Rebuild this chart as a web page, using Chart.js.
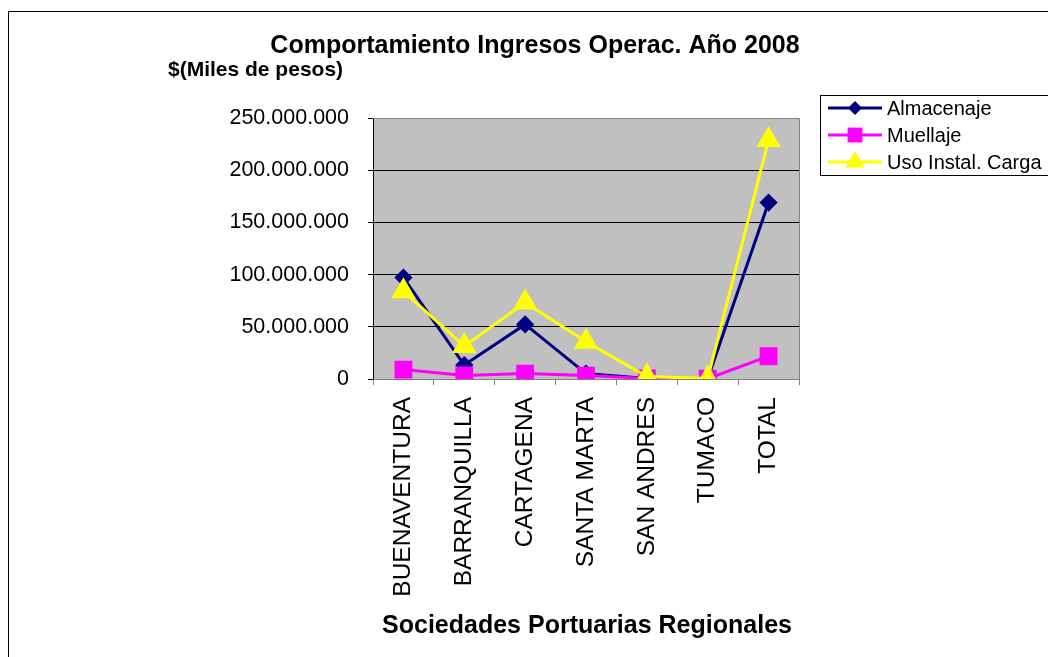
<!DOCTYPE html>
<html>
<head>
<meta charset="utf-8">
<script src="https://cdn.jsdelivr.net/npm/chart.js@4/dist/chart.umd.min.js"></script>
<style>
html,body{margin:0;padding:0;background:#fff;overflow:hidden;}
#wrap{position:relative;width:1048px;height:657px;}
canvas{display:block;}
</style>
</head>
<body>
<div id="wrap"><canvas id="c" width="1048" height="657"></canvas></div>
<script>
const categorias = ['BUENAVENTURA','BARRANQUILLA','CARTAGENA','SANTA MARTA','SAN ANDRES','TUMACO','TOTAL'];
const almacenaje = [97200000, 13400000, 52300000, 5200000, 600000, 200000, 169000000];
const muellaje   = [9000000, 3400000, 5200000, 3300000, 600000, 300000, 21800000];
const usoInstal  = [84000000, 31500000, 73300000, 35700000, 2300000, 400000, 229000000];
const yTicks = [0, 50000000, 100000000, 150000000, 200000000, 250000000];
const titulo = 'Comportamiento Ingresos Operac. Año 2008';
const subtitulo = '$(Miles de pesos)';
const tituloX = 'Sociedades Portuarias Regionales';

const FONT = '"Liberation Sans", Arial, sans-serif';
function fmt(v){ return String(v).replace(/\B(?=(\d{3})+(?!\d))/g, '.'); }

function markerPath(ctx, style, r, x, y){
  ctx.beginPath();
  if (style === 'rectRot') {
    ctx.moveTo(x - r, y); ctx.lineTo(x, y - r); ctx.lineTo(x + r, y); ctx.lineTo(x, y + r);
  } else if (style === 'rect') {
    const s = Math.SQRT1_2 * r;
    ctx.rect(x - s, y - s, 2*s, 2*s);
  } else if (style === 'triangle') {
    ctx.moveTo(x, y - r);
    ctx.lineTo(x + Math.sin(2*Math.PI/3)*r, y - Math.cos(2*Math.PI/3)*r);
    ctx.lineTo(x + Math.sin(4*Math.PI/3)*r, y - Math.cos(4*Math.PI/3)*r);
  }
  ctx.closePath();
}

const decor = {
  id: 'decor',
  beforeDraw(chart){
    const {ctx, chartArea:a} = chart;
    ctx.save();
    ctx.fillStyle = '#fff';
    ctx.fillRect(0,0,chart.width,chart.height);
    ctx.fillStyle = '#C0C0C0';
    ctx.fillRect(a.left, a.top, a.right - a.left, a.bottom - a.top);
    ctx.restore();
  },
  afterDatasetsDraw(chart){
    const {ctx, chartArea:a} = chart;
    ctx.save();
    ctx.strokeStyle = '#808080';
    ctx.lineWidth = 1;
    ctx.beginPath();
    ctx.moveTo(a.left, a.top + 0.5); ctx.lineTo(a.right + 0.5, a.top + 0.5); ctx.lineTo(a.right + 0.5, a.bottom);
    ctx.stroke();
    ctx.restore();
  },
  afterDraw(chart){
    const ctx = chart.ctx;
    ctx.save();
    ctx.strokeStyle = '#000'; ctx.lineWidth = 1;
    ctx.strokeRect(8.5, 11.5, 1200, 1000);
    ctx.fillStyle = '#000';
    ctx.textBaseline = 'alphabetic';
    ctx.textAlign = 'center';
    ctx.font = 'bold 25px ' + FONT;
    ctx.fillText(titulo, 535, 53);
    ctx.textAlign = 'left';
    ctx.font = 'bold 21px ' + FONT;
    ctx.fillText(subtitulo, 168, 76);
    ctx.textAlign = 'center';
    ctx.font = 'bold 25px ' + FONT;
    ctx.fillText(tituloX, 587, 633);
    ctx.fillStyle = '#fff';
    ctx.fillRect(820.5, 95.5, 400, 80);
    ctx.strokeStyle = '#000';
    ctx.strokeRect(820.5, 95.5, 400, 80);
    const rows = [108, 135, 162];
    chart.data.datasets.forEach((d, i) => {
      const y = rows[i];
      ctx.strokeStyle = d.borderColor; ctx.lineWidth = 3;
      ctx.beginPath(); ctx.moveTo(828, y); ctx.lineTo(882, y); ctx.stroke();
      markerPath(ctx, d.pointStyle, d.pointRadius, 855, y);
      ctx.fillStyle = d.pointBackgroundColor; ctx.fill();
      ctx.fillStyle = '#000';
      ctx.textAlign = 'left';
      ctx.textBaseline = 'middle';
      ctx.font = '20px ' + FONT;
      ctx.fillText(d.label, 887, y + 1);
    });
    ctx.restore();
  }
};

new Chart(document.getElementById('c'), {
  type: 'line',
  data: {
    labels: categorias,
    datasets: [
      {label:'Almacenaje', data: almacenaje, borderColor:'#000080', backgroundColor:'#000080',
       pointBackgroundColor:'#000080', pointBorderColor:'#000080', pointStyle:'rectRot', pointRadius:7,
       borderWidth:3, tension:0, order:3},
      {label:'Muellaje', data: muellaje, borderColor:'#FF00FF', backgroundColor:'#FF00FF',
       pointBackgroundColor:'#FF00FF', pointBorderColor:'#FF00FF', pointStyle:'rect', pointRadius:10.5,
       borderWidth:3, tension:0, order:2},
      {label:'Uso Instal. Carga', data: usoInstal, borderColor:'#FFFF00', backgroundColor:'#FFFF00',
       pointBackgroundColor:'#FFFF00', pointBorderColor:'#FFFF00', pointStyle:'triangle', pointRadius:11,
       borderWidth:3, tension:0, order:1}
    ]
  },
  options: {
    responsive: false,
    animation: false,
    devicePixelRatio: 1,
    layout: { padding: { top: 118, right: 249, left: 0, bottom: 0 } },
    plugins: { legend: {display:false}, title: {display:false}, tooltip: {enabled:false} },
    scales: {
      x: {
        offset: true,
        grid: { offset: true, drawOnChartArea: false, drawTicks: true, tickLength: 6, color: '#808080' },
        border: { color: '#808080', width: 1 },
        ticks: { minRotation: 90, maxRotation: 90, autoSkip: false, padding: 12, color: '#000',
                 font: { family: FONT, size: 24.5 } },
        afterFit(s){ s.height = 278; }
      },
      y: {
        min: 0, max: 250000000,
        afterBuildTicks(s){ s.ticks = yTicks.map(v => ({value: v})); },
        grid: { color: '#000', lineWidth: 1, drawTicks: true, tickLength: 5 },
        border: { color: '#000', width: 1 },
        ticks: { padding: 19, color: '#000', font: { family: FONT, size: 21.5 }, callback: v => fmt(v) },
        afterFit(s){ s.width = 373; }
      }
    }
  },
  plugins: [decor]
});
</script>
</body>
</html>
